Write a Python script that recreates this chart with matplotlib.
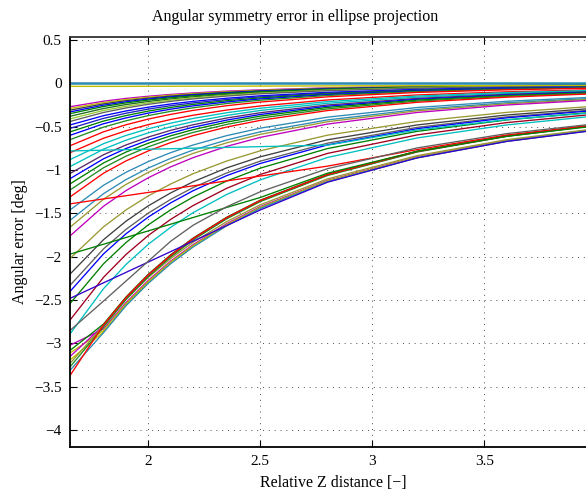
import matplotlib
matplotlib.use("Agg")
import matplotlib.pyplot as plt

# ---------------- data ----------------
x_pts = [1.65, 1.8, 1.9, 2.0, 2.1, 2.2, 2.35, 2.5, 2.8, 3.2, 3.6, 4.0]

top_curves = [
    [-0.27, -0.206, -0.174, -0.149, -0.128, -0.111, -0.090, -0.075, -0.052, -0.035, -0.024, -0.017],
    [-0.29, -0.222, -0.187, -0.160, -0.137, -0.119, -0.097, -0.080, -0.056, -0.037, -0.026, -0.019],
    [-0.31, -0.237, -0.200, -0.171, -0.147, -0.127, -0.104, -0.086, -0.060, -0.040, -0.028, -0.020],
    [-0.33, -0.252, -0.213, -0.182, -0.156, -0.135, -0.110, -0.091, -0.064, -0.042, -0.029, -0.021],
    [-0.35, -0.267, -0.226, -0.193, -0.166, -0.144, -0.117, -0.097, -0.068, -0.045, -0.031, -0.023],
    [-0.38, -0.290, -0.245, -0.209, -0.180, -0.156, -0.127, -0.105, -0.074, -0.049, -0.034, -0.024],
    [-0.41, -0.313, -0.265, -0.226, -0.194, -0.168, -0.137, -0.113, -0.080, -0.052, -0.036, -0.026],
    [-0.44, -0.336, -0.284, -0.242, -0.208, -0.180, -0.147, -0.121, -0.085, -0.056, -0.039, -0.028],
]
top_colors = ["#bf00bf", "#bfbf00", "#404040", "#0000ff", "#008000", "#1f6f1f", "#99cc33", "#606060"]

upper_curves = [
    [-0.48, -0.373, -0.319, -0.275, -0.238, -0.208, -0.172, -0.144, -0.104, -0.070, -0.050, -0.037],
    [-0.52, -0.404, -0.345, -0.297, -0.258, -0.226, -0.187, -0.156, -0.112, -0.076, -0.054, -0.040],
    [-0.56, -0.435, -0.372, -0.320, -0.278, -0.243, -0.201, -0.168, -0.121, -0.082, -0.058, -0.043],
    [-0.60, -0.466, -0.399, -0.343, -0.298, -0.260, -0.215, -0.180, -0.130, -0.088, -0.062, -0.046],
    [-0.65, -0.505, -0.432, -0.372, -0.323, -0.282, -0.233, -0.195, -0.140, -0.095, -0.068, -0.050],
    [-0.72, -0.559, -0.478, -0.412, -0.358, -0.312, -0.258, -0.216, -0.156, -0.105, -0.075, -0.055],
]
upper_colors = ["#0000ff", "#2020c0", "#008000", "#0000ff", "#228b22", "#ff0000"]

middle_curves = [
    [-0.80, -0.633, -0.547, -0.476, -0.417, -0.368, -0.308, -0.261, -0.192, -0.134, -0.098, -0.073],
    [-0.88, -0.696, -0.601, -0.524, -0.459, -0.405, -0.339, -0.287, -0.211, -0.147, -0.107, -0.081],
    [-0.96, -0.759, -0.656, -0.571, -0.501, -0.442, -0.370, -0.313, -0.230, -0.160, -0.117, -0.088],
    [-1.04, -0.823, -0.711, -0.619, -0.542, -0.478, -0.400, -0.339, -0.250, -0.174, -0.127, -0.095],
    [-1.10, -0.870, -0.752, -0.655, -0.574, -0.506, -0.424, -0.359, -0.264, -0.184, -0.134, -0.101],
    [-1.16, -0.918, -0.793, -0.690, -0.605, -0.534, -0.447, -0.378, -0.278, -0.194, -0.142, -0.106],
    [-1.23, -0.973, -0.840, -0.732, -0.641, -0.566, -0.474, -0.401, -0.295, -0.205, -0.150, -0.113],
    [-1.31, -1.036, -0.895, -0.779, -0.683, -0.603, -0.504, -0.427, -0.314, -0.219, -0.160, -0.120],
]
middle_colors = ["#ff0000", "#00bfbf", "#00bfbf", "#5a2a6a", "#0000ff", "#008000", "#228b22", "#ff0000"]

lower_curves = [
    [-1.46, -1.175, -1.026, -0.902, -0.799, -0.711, -0.603, -0.517, -0.390, -0.279, -0.207, -0.159],
    [-1.58, -1.272, -1.110, -0.976, -0.865, -0.769, -0.653, -0.559, -0.422, -0.302, -0.224, -0.172],
    [-1.66, -1.336, -1.166, -1.026, -0.908, -0.808, -0.686, -0.588, -0.443, -0.317, -0.236, -0.181],
    [-1.76, -1.417, -1.237, -1.088, -0.963, -0.857, -0.727, -0.623, -0.470, -0.336, -0.250, -0.192],
    [-2.02, -1.654, -1.460, -1.297, -1.160, -1.042, -0.896, -0.778, -0.598, -0.440, -0.335, -0.263],
    [-2.20, -1.802, -1.590, -1.412, -1.263, -1.135, -0.975, -0.847, -0.651, -0.480, -0.365, -0.286],
    [-2.33, -1.908, -1.684, -1.496, -1.338, -1.202, -1.033, -0.897, -0.690, -0.508, -0.387, -0.303],
    [-2.40, -1.966, -1.735, -1.541, -1.378, -1.238, -1.064, -0.924, -0.710, -0.523, -0.398, -0.312],
    [-2.54, -2.080, -1.836, -1.631, -1.458, -1.311, -1.126, -0.978, -0.752, -0.554, -0.422, -0.330],
    [-2.73, -2.236, -1.974, -1.753, -1.568, -1.409, -1.210, -1.051, -0.808, -0.595, -0.453, -0.355],
    [-2.89, -2.367, -2.089, -1.855, -1.659, -1.491, -1.281, -1.113, -0.855, -0.630, -0.480, -0.376],
]
lower_colors = ["#2e8bb5", "#2e8bb5", "#999933", "#bf00bf", "#999933", "#404040",
                "#606060", "#0000ff", "#008000", "#a00020", "#00bfbf"]

bundle_curves = [
    [-3.02, -2.832, -2.528, -2.271, -2.049, -1.860, -1.618, -1.421, -1.119, -0.847, -0.660, -0.530],
    [-3.08, -2.775, -2.464, -2.201, -1.976, -1.784, -1.544, -1.347, -1.050, -0.783, -0.605, -0.479],
    [-3.11, -2.849, -2.543, -2.285, -2.061, -1.871, -1.628, -1.430, -1.125, -0.852, -0.663, -0.534],
    [-3.15, -2.792, -2.478, -2.214, -1.988, -1.795, -1.553, -1.355, -1.056, -0.788, -0.608, -0.482],
    [-3.19, -2.866, -2.558, -2.298, -2.073, -1.882, -1.637, -1.438, -1.132, -0.857, -0.667, -0.537],
    [-3.23, -2.791, -2.491, -2.238, -2.019, -1.832, -1.594, -1.400, -1.102, -0.834, -0.650, -0.523],
    [-3.27, -2.808, -2.493, -2.227, -2.000, -1.805, -1.562, -1.363, -1.063, -0.792, -0.612, -0.485],
    [-3.31, -2.874, -2.565, -2.305, -2.079, -1.887, -1.642, -1.442, -1.135, -0.859, -0.669, -0.538],
    [-3.37, -2.784, -2.471, -2.207, -1.982, -1.789, -1.548, -1.351, -1.053, -0.785, -0.607, -0.481],
]
bundle_colors = ["#bf00bf", "#008000", "#bfbf00", "#bf00bf", "#bfbf00",
                 "#999933", "#228b22", "#2e8bb5", "#ff0000"]

straight_curves = [
    [-0.78, -0.771, -0.765, -0.760, -0.754, -0.748, -0.739, -0.730, -0.713, -0.538, -0.419, -0.337],
    [-1.39, -1.333, -1.296, -1.258, -1.220, -1.182, -1.125, -1.069, -0.955, -0.764, -0.596, -0.479],
    [-1.97, -1.855, -1.778, -1.701, -1.624, -1.547, -1.431, -1.316, -1.036, -0.784, -0.611, -0.491],
    [-2.48, -2.300, -2.180, -2.060, -1.940, -1.820, -1.640, -1.460, -1.140, -0.860, -0.670, -0.540],
    [-2.85, -2.510, -2.280, -2.050, -1.820, -1.636, -1.423, -1.250, -0.984, -0.745, -0.580, -0.466],
]
straight_colors = ["#00bfbf", "#ff0000", "#008000", "#3300cc", "#606060"]

near_zero_line = [-0.035, -0.035, -0.035, -0.034, -0.034, -0.033, -0.033, -0.032, -0.030, -0.028, -0.026, -0.024]
zero_line = [0.0, 0.0, 0.0, 0.0, 0.0, 0.0, 0.0, 0.0, 0.0, 0.0, 0.0, 0.0]

x_ticks = [2, 2.5, 3, 3.5]
x_tick_labels = ["2", "2.5", "3", "3.5"]
y_ticks = [-4, -3.5, -3, -2.5, -2, -1.5, -1, -0.5, 0, 0.5]
y_tick_labels = ["\u22124", "\u22123.5", "\u22123", "\u22122.5", "\u22122", "\u22121.5",
                 "\u22121", "\u22120.5", "0", "0.5"]

title_text = "Angular symmetry error in ellipse projection"
x_label = "Relative Z distance [\u2212]"
y_label = "Angular error [deg]"

# ---------------- drawing ----------------
plt.rcParams["font.family"] = ["Liberation Serif", "DejaVu Serif"]
plt.rcParams["font.size"] = 11

W, H = 586, 492
fig = plt.figure(figsize=(W / 100, H / 100), dpi=100)
ax_left, ax_bottom = 70, 45.3
ax_w, ax_h = 526.3, 410
ax = fig.add_axes([ax_left / W, ax_bottom / H, ax_w / W, ax_h / H])

lw = 0.95
groups = [
    (top_curves, top_colors),
    (upper_curves, upper_colors),
    (middle_curves, middle_colors),
    (lower_curves, lower_colors),
    (bundle_curves, bundle_colors),
    (straight_curves, straight_colors),
]
for curves, colors in groups:
    for ys, c in zip(curves, colors):
        ax.plot(x_pts, ys, color=c, lw=lw, solid_capstyle="butt", solid_joinstyle="round")

ax.plot(x_pts, near_zero_line, color="#bfbf00", lw=1.0)
ax.plot(x_pts, zero_line, color="#2a8ab0", lw=1.8)

ax.set_xlim(1.65, 4.0)
ax.set_ylim(-4.19, 0.5375)
ax.set_xticks(x_ticks)
ax.set_xticklabels(x_tick_labels)
ax.set_yticks(y_ticks)
ax.set_yticklabels(y_tick_labels)

ax.tick_params(direction="in", top=True, right=True, length=5, width=0.8,
               labelsize=11, pad=6)
ax.grid(True, linestyle=(0, (1, 5)), color="0.3", linewidth=0.7)
for sp in ax.spines.values():
    sp.set_linewidth(1.3)
    sp.set_color("black")
ax.spines["top"].set_color("#333333")

ax.set_title(title_text, fontsize=11.5, x=(295 - ax_left) / ax_w, pad=11)
ax.set_xlabel(x_label, fontsize=11.5, labelpad=5)
ax.set_ylabel(y_label, fontsize=11.5, labelpad=4)

fig.savefig("out.png", dpi=100)
